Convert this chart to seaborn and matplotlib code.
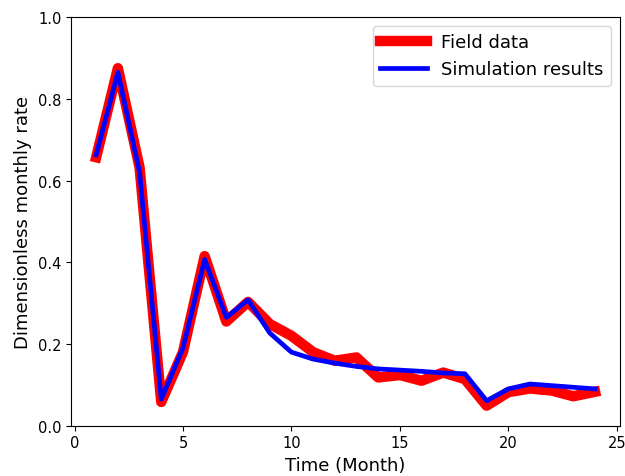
import matplotlib
matplotlib.use("Agg")
import matplotlib.pyplot as plt
import seaborn as sns
import pandas as pd

months = list(range(1, 25))
field_data = [0.657, 0.875, 0.632, 0.058, 0.18, 0.415, 0.255, 0.303, 0.249, 0.22,
              0.18, 0.159, 0.167, 0.118, 0.124, 0.11, 0.13, 0.114, 0.049, 0.082,
              0.091, 0.086, 0.072, 0.083]
simulation = [0.663, 0.865, 0.62, 0.065, 0.19, 0.407, 0.265, 0.308, 0.227, 0.18,
              0.163, 0.153, 0.145, 0.139, 0.136, 0.133, 0.129, 0.127, 0.061, 0.09,
              0.102, 0.098, 0.094, 0.09]

sns.set_style("ticks", {"axes.edgecolor": "black", "xtick.color": "black",
                        "ytick.color": "black", "text.color": "black",
                        "axes.labelcolor": "black"})
plt.rcParams["font.family"] = ["DejaVu Sans"]

df = pd.DataFrame({"Time": months, "Field": field_data, "Sim": simulation})

fig = plt.figure(figsize=(6.25, 4.77), dpi=100)
ax = fig.add_axes([0.114, 0.1055, 0.878, 0.8565])

sns.lineplot(data=df, x="Time", y="Field", ax=ax, color="red", linewidth=7.5,
             label="Field data", solid_capstyle="projecting")
sns.lineplot(data=df, x="Time", y="Sim", ax=ax, color="blue", linewidth=3.4,
             label="Simulation results", solid_capstyle="projecting")

ax.set_ylim(0, 1.0)
ax.set_xlim(-0.15, 25.15)
ax.set_xticks([0, 5, 10, 15, 20, 25])
ax.set_yticks([0.0, 0.2, 0.4, 0.6, 0.8, 1.0])
ax.set_xlabel("Time (Month)", fontsize=13)
ax.set_ylabel("Dimensionless monthly rate", fontsize=13)
ax.tick_params(labelsize=10.5, length=3.5, width=0.8)
for s in ax.spines.values():
    s.set_linewidth(0.8)
leg = ax.legend(loc="upper right", fontsize=13, handlelength=2.6, frameon=True)

fig.savefig("out.png", dpi=100)
